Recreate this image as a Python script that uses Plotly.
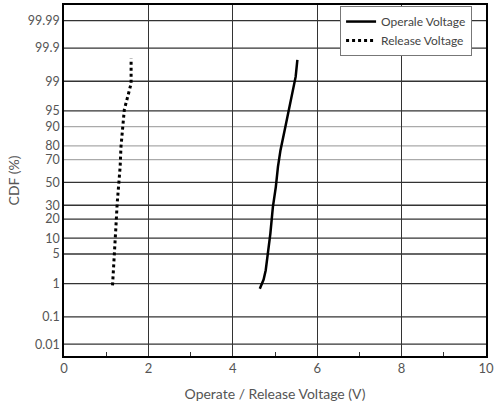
from statistics import NormalDist
import plotly.graph_objects as go

# Datos (voltaje en V, probabilidad acumulada en %)
operate_v = [4.64, 4.73, 4.78, 4.83, 4.89, 4.95, 5.02, 5.07, 5.13, 5.23, 5.33, 5.43, 5.49, 5.53]
operate_pct = [0.73, 1.28, 2.18, 5.1, 12.0, 28.7, 46.0, 64.0, 77.1, 88.6, 95.2, 98.47, 99.25, 99.76]

release_v = [1.15, 1.18, 1.21, 1.23, 1.26, 1.30, 1.33, 1.35, 1.39, 1.43, 1.53, 1.59, 1.59]
release_pct = [0.90, 2.6, 6.9, 15.3, 31.4, 46.0, 64.0, 79.4, 89.97, 95.35, 97.97, 98.86, 99.78]

y_ticks = [0.01, 0.1, 1, 5, 10, 20, 30, 50, 70, 80, 90, 95, 99, 99.9, 99.99]
y_tick_text = ["0.01", "0.1", "1", "5", "10", "20", "30", "50", "70", "80", "90", "95", "99", "99.9", "99.99"]
y_light = [70, 80, 90]
x_ticks = [0, 2, 4, 6, 8, 10]
x_minor = [1, 3, 5, 7, 9]

nd = NormalDist()


def prob_z(p):
    # escala de probabilidad normal
    return nd.inv_cdf(p / 100.0)


fig = go.Figure()

fig.add_trace(go.Scatter(
    x=operate_v, y=[prob_z(p) for p in operate_pct],
    mode='lines', name='Operale Voltage',
    line=dict(color='black', width=2.5)
))
fig.add_trace(go.Scatter(
    x=release_v, y=[prob_z(p) for p in release_pct],
    mode='lines', name='Release Voltage',
    line=dict(color='black', width=3, dash='3px,3px')
))

# Líneas horizontales de la cuadrícula
for t in y_ticks:
    fig.add_shape(
        type='line', xref='paper', x0=0, x1=1, yref='y', y0=prob_z(t), y1=prob_z(t),
        line=dict(color='#aaaaaa' if t in y_light else '#333333', width=1.3),
        layer='below'
    )

fam = 'Lato, Noto Sans, sans-serif'

fig.update_layout(
    width=494, height=409,
    margin=dict(l=64, r=8, t=5, b=53),
    plot_bgcolor='white', paper_bgcolor='white',
    font=dict(family=fam, size=12, color='#555555'),
    showlegend=True,
    legend=dict(
        x=0.967, y=0.997, xanchor='right', yanchor='top',
        bgcolor='white', bordercolor='#777777', borderwidth=1,
        font=dict(family=fam, size=12, color='#444444'),
        tracegroupgap=0, itemwidth=30,
    ),
    xaxis=dict(
        range=[0, 10], tickvals=x_ticks, ticks='',
        showgrid=True, gridcolor='#333333', gridwidth=1.3,
        showline=True, linecolor='black', linewidth=1.5, mirror=True,
        zeroline=False, automargin=False, ticklabeloverflow='allow',
        tickfont=dict(size=13),
        minor=dict(tickvals=x_minor, ticks='inside', ticklen=4, tickcolor='#333333', showgrid=False),
        title=dict(text='Operate / Release Voltage (V)', font=dict(size=14, color='#555555'), standoff=14),
    ),
    yaxis=dict(
        range=[-3.99, 4.08],
        tickvals=[prob_z(t) for t in y_ticks], ticktext=y_tick_text, ticks='',
        showgrid=False, zeroline=False, automargin=False,
        showline=True, linecolor='black', linewidth=1.5, mirror=True,
        tickfont=dict(size=12.5),
        title=dict(text='CDF (%)', font=dict(size=14, color='#555555'), standoff=5),
    ),
)

fig.write_html("out.html", config={'displayModeBar': False},
               post_script="document.body.style.margin = '0';")
